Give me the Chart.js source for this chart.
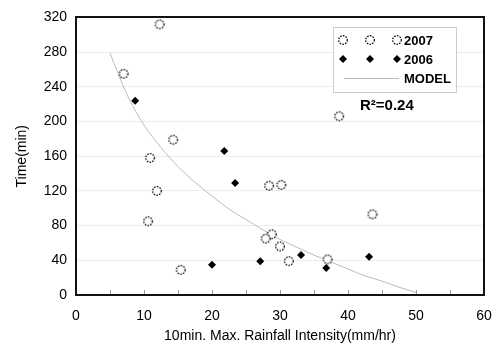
<!DOCTYPE html>
<html>
<head>
<meta charset="utf-8">
<script src="https://cdn.jsdelivr.net/npm/chart.js@4.4.1/dist/chart.umd.min.js"></script>
<style>
  html, body { margin: 0; padding: 0; background: #fff; }
  #wrap { width: 498px; height: 350px; position: relative; }
</style>
</head>
<body>
<div id="wrap"><canvas id="rainChart"></canvas></div>
<script>
// 2007 observations (open dotted circles)
const x2007 = [12.3, 7.0, 14.3, 10.9, 11.9, 10.6, 15.4, 28.4, 30.2, 28.8, 27.9, 30.0, 31.3, 38.7, 43.6, 37.0];
const y2007 = [312, 255, 179, 158, 120, 85, 29, 126, 127, 70, 65, 56, 39, 206, 93, 41];

// 2006 observations (black diamonds)
const x2006 = [8.7, 21.8, 23.4, 20.0, 27.1, 33.1, 36.8, 43.1];
const y2006 = [224, 166, 129, 35, 39, 46, 31, 44];

// model curve
const xModel = [5, 7.5, 10, 12.5, 15, 17.5, 20, 22.5, 25, 27.5, 30, 32.5, 35, 37.5, 40, 42.5, 45, 47.5, 50];
const yModel = [279, 231, 196, 170, 148, 130, 114, 99, 87, 75, 64, 55, 46, 38, 30, 22, 16, 9, 3];

const legendLabels = ['2007', '2006', 'MODEL'];
const r2Text = 'R\u00B2=0.24';

const toPoints = (xs, ys) => xs.map((x, i) => ({ x: x, y: ys[i] }));

// dotted open circle marker
function makeCircle() {
    const c = document.createElement('canvas');
    c.width = 12; c.height = 12;
    const g = c.getContext('2d');
    g.fillStyle = '#fff';
    g.beginPath();
    g.arc(6, 6, 4.3, 0, Math.PI * 2);
    g.fill();
    g.setLineDash([1.6, 1.2]);
    g.strokeStyle = '#000';
    g.lineWidth = 1.2;
    g.stroke();
    return c;
}
const circleImg = makeCircle();

const frameAndLegend = {
    id: 'frameAndLegend',
    afterDraw(chart) {
        const ctx = chart.ctx;
        const area = chart.chartArea;
        const xs = chart.scales.x;
        const l = Math.round(area.left), t = Math.round(area.top);
        const r = Math.round(area.right), b = Math.round(area.bottom);
        ctx.save();

        // minor ticks along the bottom axis, pointing up
        ctx.fillStyle = '#999';
        for (let v = 5; v < 60; v += 5) {
            const px = Math.round(xs.getPixelForValue(v));
            ctx.fillRect(px, b - 5, 1, 4);
        }

        // plot frame
        ctx.fillStyle = '#111';
        ctx.fillRect(l - 1, t - 1, 2, b - t + 2);
        ctx.fillRect(r - 1, t - 1, 2, b - t + 2);
        ctx.fillRect(l - 1, t - 1, r - l + 2, 2);
        ctx.fillRect(l - 1, b - 1, r - l + 2, 2);

        // legend box
        const lx = r - 151, ly = t + 10;
        ctx.fillStyle = '#ccc';
        ctx.fillRect(lx, ly, 124, 66);
        ctx.fillStyle = '#fff';
        ctx.fillRect(lx + 1, ly + 1, 122, 64);

        const cols = [lx + 10, lx + 37, lx + 64];
        const rows = [ly + 13, ly + 32, ly + 51];
        cols.forEach(cx => {
            ctx.drawImage(circleImg, cx - 6, rows[0] - 6);
            ctx.fillStyle = '#000';
            ctx.beginPath();
            ctx.moveTo(cx, rows[1] - 4);
            ctx.lineTo(cx + 4, rows[1]);
            ctx.lineTo(cx, rows[1] + 4);
            ctx.lineTo(cx - 4, rows[1]);
            ctx.closePath();
            ctx.fill();
        });
        ctx.fillStyle = '#bbb';
        ctx.fillRect(lx + 11, rows[2], 55, 1);

        ctx.fillStyle = '#000';
        ctx.font = 'bold 13px "Liberation Sans", Arial, sans-serif';
        ctx.textBaseline = 'middle';
        ctx.textAlign = 'left';
        legendLabels.forEach((txt, i) => ctx.fillText(txt, lx + 71, rows[i] + 1));

        // R squared
        ctx.font = 'bold 15px "Liberation Sans", Arial, sans-serif';
        ctx.fillText(r2Text, l + 284, t + 89);
        ctx.restore();
    }
};

const tickFont = { family: '"Liberation Sans", Arial, sans-serif', size: 14 };

new Chart(document.getElementById('rainChart'), {
    type: 'scatter',
    data: {
        datasets: [
            {
                label: '2007',
                data: toPoints(x2007, y2007),
                pointStyle: circleImg,
                order: 1
            },
            {
                label: '2006',
                data: toPoints(x2006, y2006),
                pointStyle: 'rectRot',
                pointRadius: 4,
                backgroundColor: '#000',
                borderColor: '#000',
                borderWidth: 0,
                order: 2
            },
            {
                label: 'MODEL',
                type: 'line',
                data: toPoints(xModel, yModel),
                borderColor: '#bbb',
                borderWidth: 1,
                pointRadius: 0,
                tension: 0.4,
                cubicInterpolationMode: 'monotone',
                fill: false,
                order: 3
            }
        ]
    },
    options: {
        responsive: true,
        maintainAspectRatio: false,
        animation: false,
        layout: { padding: { left: 0, right: 14, top: 11, bottom: 0 } },
        plugins: {
            legend: { display: false },
            tooltip: { enabled: false }
        },
        scales: {
            x: {
                type: 'linear',
                min: 0,
                max: 60,
                ticks: { stepSize: 10, color: '#000', font: tickFont, padding: 2, maxRotation: 0 },
                grid: { display: true, drawOnChartArea: false, drawTicks: true, tickLength: 11, tickColor: 'rgba(0,0,0,0)' },
                border: { display: false },
                title: {
                    display: true,
                    text: '10min. Max. Rainfall Intensity(mm/hr)',
                    color: '#000',
                    font: tickFont,
                    padding: { top: 0, bottom: 5 }
                },
                afterFit: (scale) => { scale.height = 55; }
            },
            y: {
                type: 'linear',
                min: 0,
                max: 320,
                ticks: { stepSize: 40, color: '#000', font: tickFont, padding: 9 },
                grid: { color: '#ececec', drawTicks: false },
                border: { display: false },
                title: {
                    display: true,
                    text: 'Time(min)',
                    color: '#000',
                    font: tickFont,
                    padding: { top: 14, bottom: 0 }
                },
                afterFit: (scale) => { scale.width = 76; }
            }
        }
    },
    plugins: [frameAndLegend]
});
</script>
</body>
</html>
